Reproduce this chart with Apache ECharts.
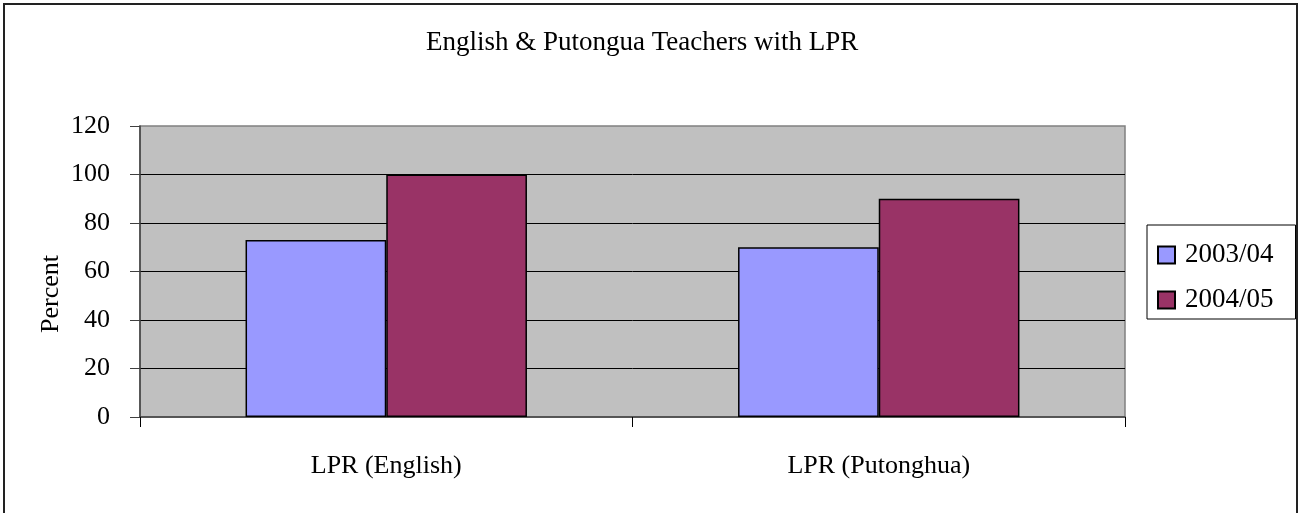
<!DOCTYPE html>
<html>
<head>
<meta charset="utf-8">
<title>English & Putongua Teachers with LPR</title>
<script src="https://cdn.jsdelivr.net/npm/echarts@6/dist/echarts.min.js"></script>
<style>
    html, body { margin: 0; padding: 0; background: #fff; }
    #chart { width: 1301px; height: 513px; }
</style>
</head>
<body>
<div id="chart"></div>
<script>
// data
const categories = ["LPR (English)", "LPR (Putonghua)"];
const seriesNames = ["2003/04", "2004/05"];
const values0304 = [73, 70];
const values0405 = [100, 90];
const yTicks = [0, 20, 40, 60, 80, 100, 120];

const FONT = "'Liberation Serif', 'Times New Roman', serif";
const BAR_COLORS = ["#9999FF", "#993366"];

const div = document.getElementById("chart");
const chart = echarts.init(div, null, { renderer: "canvas" });

function barSeries(name, data, color) {
    return {
        name: name,
        type: "bar",
        data: data,
        barGap: "0%",
        barCategoryGap: "42.86%",
        itemStyle: { color: color, borderColor: "#000", borderWidth: 1.5 },
        animation: false
    };
}

const option = {
    animation: false,
    textStyle: { fontFamily: FONT, color: "#000" },
    title: {
        text: "English & Putongua Teachers with LPR",
        left: 421,
        top: 24,
        textStyle: { fontFamily: FONT, fontSize: 27, fontWeight: "normal", color: "#000" }
    },
    legend: {
        orient: "vertical",
        left: 1147,
        top: 225,
        padding: [15, 22, 4, 10],
        itemGap: 15,
        itemWidth: 17,
        itemHeight: 17,
        icon: "rect",
        borderColor: "#000",
        borderWidth: 1,
        data: seriesNames,
        textStyle: { fontFamily: FONT, fontSize: 27, lineHeight: 30, color: "#000", padding: [0, 0, 0, 5] }
    },
    grid: {
        left: 140,
        right: 176,
        top: 126,
        bottom: 96,
        show: true,
        backgroundColor: "#C0C0C0",
        borderColor: "#808080",
        borderWidth: 1.5
    },
    xAxis: {
        type: "category",
        data: categories,
        boundaryGap: true,
        axisLine: { lineStyle: { color: "#404040", width: 1.5 } },
        axisTick: { show: true, length: 10, lineStyle: { color: "#000", width: 1 } },
        axisLabel: { margin: 36, fontFamily: FONT, fontSize: 26, color: "#000", verticalAlign: "top" },
        splitLine: { show: false }
    },
    yAxis: {
        type: "value",
        min: yTicks[0],
        max: yTicks[yTicks.length - 1],
        interval: yTicks[1] - yTicks[0],
        axisLine: { show: true, lineStyle: { color: "#404040", width: 1.5 } },
        axisTick: { show: true, length: 10, lineStyle: { color: "#404040", width: 1 } },
        axisLabel: { margin: 30, fontFamily: FONT, fontSize: 26, color: "#000", padding: [8, 0, 0, 0] },
        splitLine: { show: true, showMinLine: false, showMaxLine: false, lineStyle: { color: "#000", width: 1 } }
    },
    graphic: [
        {
            type: "rect",
            shape: { x: 4, y: 4, width: 1293, height: 520 },
            style: { fill: null, stroke: "#222", lineWidth: 2 },
            silent: true
        },
        {
            type: "text",
            x: 51,
            y: 294,
            rotation: Math.PI / 2,
            style: {
                text: "Percent",
                font: "26px " + FONT,
                fill: "#000",
                align: "center",
                verticalAlign: "middle"
            },
            silent: true
        }
    ],
    series: [
        barSeries(seriesNames[0], values0304, BAR_COLORS[0]),
        barSeries(seriesNames[1], values0405, BAR_COLORS[1])
    ]
};

chart.setOption(option);
</script>
</body>
</html>
